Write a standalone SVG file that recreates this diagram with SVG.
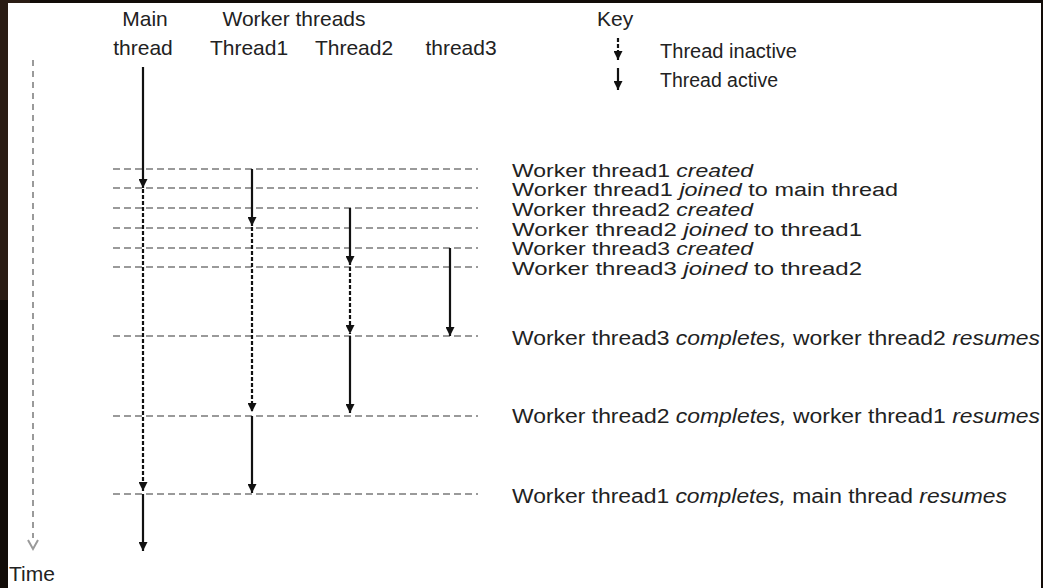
<svg xmlns="http://www.w3.org/2000/svg" width="1043" height="588" viewBox="0 0 1043 588">
<defs>
<style>
text{font-family:"Liberation Sans",Arial,sans-serif;fill:#222;font-size:20px}
.hd{font-size:21px}
.ev{font-size:18px}
.grid{stroke:#7a7a7a;stroke-width:1.6;stroke-dasharray:7 4;fill:none}
.act{stroke:#111;stroke-width:2.2;fill:none;marker-end:url(#ah)}
.ina{stroke:#111;stroke-width:2.2;stroke-dasharray:4 2;fill:none;marker-end:url(#ah)}
.time{stroke:#9a9a9a;stroke-width:2;stroke-dasharray:6 5;fill:none}
</style>
<marker id="ah" markerWidth="9" markerHeight="9" refX="9" refY="4.5" orient="auto" markerUnits="userSpaceOnUse" viewBox="0 0 9 9">
<path d="M0,0 L9,4.5 L0,9 z" fill="#111"/>
</marker>
</defs>
<rect x="0" y="0" width="1043" height="588" fill="#120c08"/>
<rect x="0" y="0" width="30" height="300" fill="#2a1c14"/>
<rect x="8" y="3" width="1033" height="585" fill="#ffffff"/>

<g id="time-axis">
<line class="time" x1="33" y1="60" x2="33" y2="538"/>
<path d="M28,540 L33,549 L38,540" fill="none" stroke="#9a9a9a" stroke-width="2"/>
<text class="hd" x="9" y="581">Time</text>
</g>

<g id="header-main">
<text class="hd" x="145" y="26" text-anchor="middle">Main</text>
<text class="hd" x="143" y="55" text-anchor="middle">thread</text>
</g>
<g id="header-workers">
<text class="hd" x="294" y="26" text-anchor="middle" textLength="143" lengthAdjust="spacingAndGlyphs">Worker threads</text>
<text class="hd" x="249" y="55" text-anchor="middle">Thread1</text>
<text class="hd" x="354" y="55" text-anchor="middle">Thread2</text>
<text class="hd" x="461" y="55" text-anchor="middle">thread3</text>
</g>

<g id="key">
<text class="hd" x="597" y="26">Key</text>
<line class="ina" x1="618" y1="38" x2="618" y2="60"/>
<line class="act" x1="618" y1="68" x2="618" y2="90"/>
<text x="660" y="58" textLength="137" lengthAdjust="spacingAndGlyphs">Thread inactive</text>
<text x="660" y="87" textLength="118" lengthAdjust="spacingAndGlyphs">Thread active</text>
</g>

<g id="event-lines">
<line class="grid" x1="113" y1="169" x2="478" y2="169"/>
<line class="grid" x1="113" y1="188" x2="478" y2="188"/>
<line class="grid" x1="113" y1="208" x2="478" y2="208"/>
<line class="grid" x1="113" y1="228" x2="478" y2="228"/>
<line class="grid" x1="113" y1="248" x2="478" y2="248"/>
<line class="grid" x1="113" y1="267" x2="478" y2="267"/>
<line class="grid" x1="113" y1="336" x2="478" y2="336"/>
<line class="grid" x1="113" y1="416" x2="478" y2="416"/>
<line class="grid" x1="113" y1="494" x2="478" y2="494"/>
</g>

<g id="connectors">
<line class="act" x1="143" y1="67" x2="143" y2="188"/>
<line class="ina" x1="143" y1="189" x2="143" y2="491"/>
<line class="act" x1="143" y1="494" x2="143" y2="551"/>

<line class="act" x1="252" y1="169" x2="252" y2="226"/>
<line class="ina" x1="252" y1="227" x2="252" y2="412"/>
<line class="act" x1="252" y1="416" x2="252" y2="493"/>

<line class="act" x1="350" y1="208" x2="350" y2="265"/>
<line class="ina" x1="350" y1="267" x2="350" y2="334"/>
<line class="act" x1="350" y1="336" x2="350" y2="413"/>

<line class="act" x1="450" y1="248" x2="450" y2="336"/>
</g>

<g id="events">
<text class="ev" x="512" y="177" textLength="241" lengthAdjust="spacingAndGlyphs">Worker thread1 <tspan font-style="italic">created</tspan></text>
<text class="ev" x="512" y="196" textLength="386" lengthAdjust="spacingAndGlyphs">Worker thread1 <tspan font-style="italic">joined</tspan> to main thread</text>
<text class="ev" x="512" y="216" textLength="241" lengthAdjust="spacingAndGlyphs">Worker thread2 <tspan font-style="italic">created</tspan></text>
<text class="ev" x="512" y="236" textLength="350" lengthAdjust="spacingAndGlyphs">Worker thread2 <tspan font-style="italic">joined</tspan> to thread1</text>
<text class="ev" x="512" y="255" textLength="241" lengthAdjust="spacingAndGlyphs">Worker thread3 <tspan font-style="italic">created</tspan></text>
<text class="ev" x="512" y="275" textLength="350" lengthAdjust="spacingAndGlyphs">Worker thread3 <tspan font-style="italic">joined</tspan> to thread2</text>
<text x="512" y="345" textLength="528" lengthAdjust="spacingAndGlyphs">Worker thread3 <tspan font-style="italic">completes,</tspan> worker thread2 <tspan font-style="italic">resumes</tspan></text>
<text x="512" y="423" textLength="528" lengthAdjust="spacingAndGlyphs">Worker thread2 <tspan font-style="italic">completes,</tspan> worker thread1 <tspan font-style="italic">resumes</tspan></text>
<text x="512" y="503" textLength="495" lengthAdjust="spacingAndGlyphs">Worker thread1 <tspan font-style="italic">completes,</tspan> main thread <tspan font-style="italic">resumes</tspan></text>
</g>
</svg>
